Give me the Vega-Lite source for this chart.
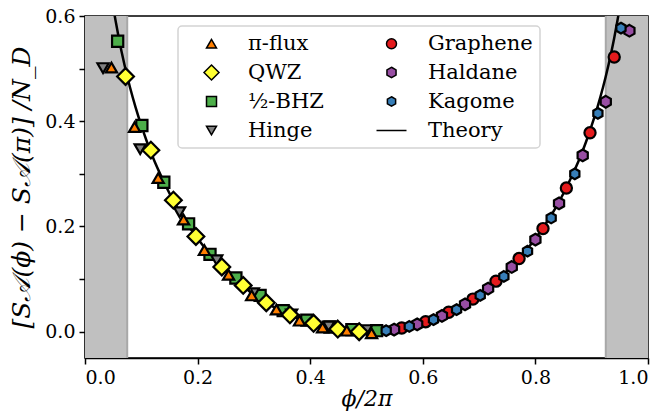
{
  "$schema": "https://vega.github.io/schema/vega-lite/v6.json",
  "width": 563,
  "height": 342,
  "autosize": {"type": "none"},
  "padding": {"left": 85, "top": 16, "right": 19, "bottom": 55},
  "background": "white",
  "config": {
    "font": "DejaVu Serif",
    "view": {"stroke": "black", "strokeWidth": 1.5},
    "axis": {
      "grid": false,
      "domainColor": "black",
      "domainWidth": 1.5,
      "tickColor": "black",
      "tickWidth": 1.5,
      "tickSize": 6,
      "labelFont": "DejaVu Serif",
      "labelFontSize": 19,
      "labelColor": "black",
      "labelPadding": 4,
      "titleFont": "DejaVu Serif",
      "titleFontSize": 22,
      "titleFontWeight": "normal",
      "titleFontStyle": "italic",
      "titleColor": "black"
    },
    "legend": {
      "orient": "none",
      "legendX": 93,
      "legendY": 10,
      "columns": 2,
      "gridAlign": "each",
      "padding": 7,
      "fillColor": "white",
      "strokeColor": "#d4d4d4",
      "strokeWidth": 1.5,
      "cornerRadius": 4,
      "labelFont": "DejaVu Serif",
      "labelFontSize": 21,
      "labelColor": "black",
      "symbolOffset": 16,
      "labelOffset": 26,
      "rowPadding": 7,
      "columnPadding": 41,
      "symbolOpacity": 1,
      "title": null
    }
  },
  "layer": [
    {
      "data": {"values": [{"lo": -0.1, "hi": 0.075}, {"lo": 0.925, "hi": 1.1}]},
      "mark": {"type": "rect", "color": "#c0c0c0", "clip": true},
      "encoding": {
        "x": {"field": "lo", "type": "quantitative", "scale": {"domain": [0, 1], "nice": false, "zero": false}},
        "x2": {"field": "hi"}
      }
    },
    {
      "data": {"values": [{"b": 0.075}, {"b": 0.925}]},
      "mark": {"type": "rule", "color": "#a8a8a8", "strokeWidth": 2},
      "encoding": {
        "x": {"field": "b", "type": "quantitative", "scale": {"domain": [0, 1], "nice": false, "zero": false}}
      }
    },
    {
      "data": {"values": [
        {"x": 0.04, "y": 0.692}, {"x": 0.045, "y": 0.653}, {"x": 0.05, "y": 0.618}, {"x": 0.055, "y": 0.587},
        {"x": 0.06, "y": 0.558}, {"x": 0.065, "y": 0.532}, {"x": 0.07, "y": 0.508}, {"x": 0.08, "y": 0.464},
        {"x": 0.09, "y": 0.426}, {"x": 0.10, "y": 0.392}, {"x": 0.11, "y": 0.361}, {"x": 0.12, "y": 0.333},
        {"x": 0.14, "y": 0.285}, {"x": 0.16, "y": 0.243}, {"x": 0.18, "y": 0.208}, {"x": 0.20, "y": 0.177},
        {"x": 0.22, "y": 0.150}, {"x": 0.25, "y": 0.116}, {"x": 0.28, "y": 0.087}, {"x": 0.30, "y": 0.071},
        {"x": 0.33, "y": 0.050}, {"x": 0.36, "y": 0.033}, {"x": 0.40, "y": 0.017}, {"x": 0.45, "y": 0.004},
        {"x": 0.50, "y": 0.000}, {"x": 0.55, "y": 0.004}, {"x": 0.60, "y": 0.017}, {"x": 0.64, "y": 0.033},
        {"x": 0.67, "y": 0.050}, {"x": 0.70, "y": 0.071}, {"x": 0.72, "y": 0.087}, {"x": 0.75, "y": 0.116},
        {"x": 0.78, "y": 0.150}, {"x": 0.80, "y": 0.177}, {"x": 0.82, "y": 0.208}, {"x": 0.84, "y": 0.243},
        {"x": 0.86, "y": 0.285}, {"x": 0.88, "y": 0.333}, {"x": 0.89, "y": 0.361}, {"x": 0.90, "y": 0.392},
        {"x": 0.91, "y": 0.426}, {"x": 0.92, "y": 0.464}, {"x": 0.93, "y": 0.508}, {"x": 0.935, "y": 0.532},
        {"x": 0.94, "y": 0.558}, {"x": 0.945, "y": 0.587}, {"x": 0.95, "y": 0.618}, {"x": 0.955, "y": 0.653},
        {"x": 0.96, "y": 0.692}
      ]},
      "mark": {"type": "line", "color": "black", "strokeWidth": 2.5, "clip": true, "interpolate": "monotone"},
      "encoding": {
        "x": {"field": "x", "type": "quantitative", "scale": {"domain": [0, 1], "nice": false, "zero": false}},
        "y": {"field": "y", "type": "quantitative", "scale": {"domain": [-0.05, 0.6], "nice": false, "zero": false}}
      }
    },
    {
      "data": {"values": [
        {"series": "½-BHZ", "x": 0.058, "y": 0.552}, {"series": "½-BHZ", "x": 0.101, "y": 0.392},
        {"series": "½-BHZ", "x": 0.140, "y": 0.284}, {"series": "½-BHZ", "x": 0.184, "y": 0.205},
        {"series": "½-BHZ", "x": 0.222, "y": 0.147}, {"series": "½-BHZ", "x": 0.268, "y": 0.102},
        {"series": "½-BHZ", "x": 0.311, "y": 0.069}, {"series": "½-BHZ", "x": 0.352, "y": 0.040},
        {"series": "½-BHZ", "x": 0.394, "y": 0.022}, {"series": "½-BHZ", "x": 0.435, "y": 0.009},
        {"series": "½-BHZ", "x": 0.474, "y": 0.004}, {"series": "½-BHZ", "x": 0.518, "y": 0.002},
        {"series": "Hinge", "x": 0.032, "y": 0.501}, {"series": "Hinge", "x": 0.098, "y": 0.347},
        {"series": "Hinge", "x": 0.168, "y": 0.227}, {"series": "Hinge", "x": 0.234, "y": 0.136},
        {"series": "Hinge", "x": 0.299, "y": 0.073}, {"series": "Hinge", "x": 0.367, "y": 0.033},
        {"series": "Hinge", "x": 0.433, "y": 0.010}, {"series": "Hinge", "x": 0.500, "y": 0.003},
        {"series": "QWZ", "x": 0.072, "y": 0.485}, {"series": "QWZ", "x": 0.117, "y": 0.345},
        {"series": "QWZ", "x": 0.157, "y": 0.250}, {"series": "QWZ", "x": 0.197, "y": 0.181},
        {"series": "QWZ", "x": 0.243, "y": 0.123}, {"series": "QWZ", "x": 0.281, "y": 0.088},
        {"series": "QWZ", "x": 0.322, "y": 0.055}, {"series": "QWZ", "x": 0.364, "y": 0.032},
        {"series": "QWZ", "x": 0.406, "y": 0.016}, {"series": "QWZ", "x": 0.449, "y": 0.005},
        {"series": "QWZ", "x": 0.487, "y": 0.000},
        {"series": "π-flux", "x": 0.047, "y": 0.502}, {"series": "π-flux", "x": 0.088, "y": 0.389},
        {"series": "π-flux", "x": 0.130, "y": 0.292}, {"series": "π-flux", "x": 0.175, "y": 0.213},
        {"series": "π-flux", "x": 0.212, "y": 0.155}, {"series": "π-flux", "x": 0.255, "y": 0.108},
        {"series": "π-flux", "x": 0.296, "y": 0.069}, {"series": "π-flux", "x": 0.340, "y": 0.042},
        {"series": "π-flux", "x": 0.381, "y": 0.021}, {"series": "π-flux", "x": 0.422, "y": 0.008},
        {"series": "π-flux", "x": 0.465, "y": 0.002}, {"series": "π-flux", "x": 0.509, "y": -0.003},
        {"series": "Graphene", "x": 0.5625, "y": 0.007}, {"series": "Graphene", "x": 0.605, "y": 0.019},
        {"series": "Graphene", "x": 0.646, "y": 0.037}, {"series": "Graphene", "x": 0.689, "y": 0.062},
        {"series": "Graphene", "x": 0.730, "y": 0.096}, {"series": "Graphene", "x": 0.771, "y": 0.139},
        {"series": "Graphene", "x": 0.8135, "y": 0.196}, {"series": "Graphene", "x": 0.855, "y": 0.273},
        {"series": "Graphene", "x": 0.897, "y": 0.378}, {"series": "Graphene", "x": 0.940, "y": 0.522},
        {"series": "Haldane", "x": 0.549, "y": 0.004}, {"series": "Haldane", "x": 0.590, "y": 0.014},
        {"series": "Haldane", "x": 0.634, "y": 0.030}, {"series": "Haldane", "x": 0.675, "y": 0.052},
        {"series": "Haldane", "x": 0.716, "y": 0.082}, {"series": "Haldane", "x": 0.758, "y": 0.123},
        {"series": "Haldane", "x": 0.800, "y": 0.175}, {"series": "Haldane", "x": 0.842, "y": 0.244},
        {"series": "Haldane", "x": 0.884, "y": 0.335}, {"series": "Haldane", "x": 0.925, "y": 0.437},
        {"series": "Haldane", "x": 0.967, "y": 0.572},
        {"series": "Kagome", "x": 0.535, "y": 0.002}, {"series": "Kagome", "x": 0.576, "y": 0.010},
        {"series": "Kagome", "x": 0.619, "y": 0.023}, {"series": "Kagome", "x": 0.660, "y": 0.042},
        {"series": "Kagome", "x": 0.702, "y": 0.069}, {"series": "Kagome", "x": 0.744, "y": 0.105},
        {"series": "Kagome", "x": 0.786, "y": 0.153}, {"series": "Kagome", "x": 0.828, "y": 0.216},
        {"series": "Kagome", "x": 0.870, "y": 0.300}, {"series": "Kagome", "x": 0.911, "y": 0.415},
        {"series": "Kagome", "x": 0.952, "y": 0.577}
      ]},
      "mark": {"type": "point", "filled": true, "opacity": 1, "stroke": "black", "strokeWidth": 2.2, "size": 125, "clip": true},
      "encoding": {
        "x": {
          "field": "x", "type": "quantitative",
          "scale": {"domain": [0, 1], "nice": false, "zero": false},
          "axis": {"values": [0, 0.2, 0.4, 0.6, 0.8, 1.0], "format": ".1f", "title": "ϕ/2π", "titlePadding": 1}
        },
        "y": {
          "field": "y", "type": "quantitative",
          "scale": {"domain": [-0.05, 0.6], "nice": false, "zero": false},
          "axis": {
            "values": [0, 0.1, 0.2, 0.3, 0.4, 0.5, 0.6],
            "format": ".1f",
            "labelExpr": "datum.label == '0.1' || datum.label == '0.3' || datum.label == '0.5' ? '' : datum.label",
            "title": "[S𝒜(ϕ) − S𝒜(π)] /N_D",
            "titleFontSize": 25,
            "titlePadding": 10
          }
        },
        "color": {
          "field": "series", "type": "nominal",
          "scale": {
            "domain": ["π-flux", "QWZ", "½-BHZ", "Hinge", "Graphene", "Haldane", "Kagome", "Theory"],
            "range": ["#ff7f00", "#ffff33", "#4daf4a", "#808080", "#e41a1c", "#984ea3", "#377eb8", "black"]
          },
          "legend": {
            "encode": {
              "symbols": {
                "update": {
                  "stroke": {"value": "black"},
                  "strokeWidth": {"value": 2.2},
                  "opacity": {"value": 1}
                }
              }
            }
          }
        },
        "shape": {
          "field": "series", "type": "nominal",
          "scale": {
            "domain": ["π-flux", "QWZ", "½-BHZ", "Hinge", "Graphene", "Haldane", "Kagome", "Theory"],
            "range": [
              "triangle-up",
              "M0,-1.5L1.5,0L0,1.5L-1.5,0Z",
              "square",
              "triangle-down",
              "circle",
              "M0,-1.05L0.91,-0.525L0.91,0.525L0,1.05L-0.91,0.525L-0.91,-0.525Z",
              "M0,-0.95L0.823,-0.475L0.823,0.475L0,0.95L-0.823,0.475L-0.823,-0.475Z",
              "M-3,0L3,0"
            ]
          }
        }
      }
    }
  ]
}
